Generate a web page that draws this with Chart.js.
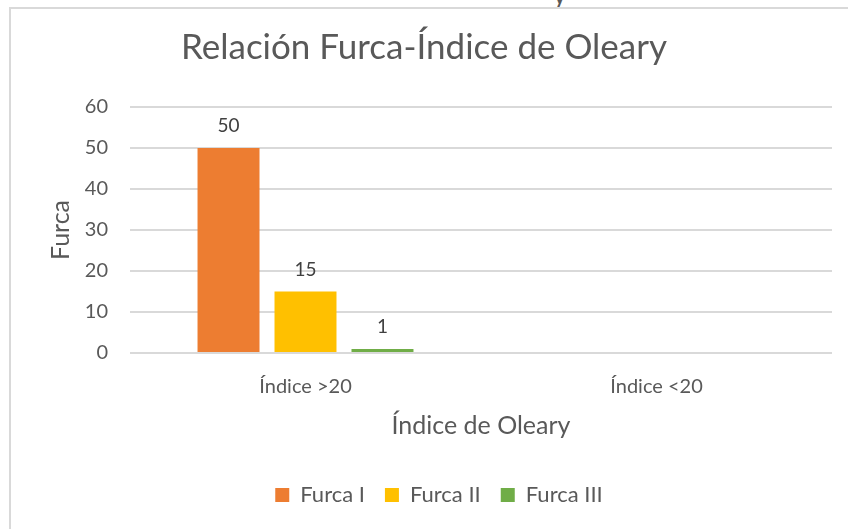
<!DOCTYPE html>
<html>
<head>
<meta charset="utf-8">
<script src="https://cdn.jsdelivr.net/npm/chart.js@4.4.0/dist/chart.umd.min.js"></script>
<style>
  html, body { margin: 0; padding: 0; background: #fff; overflow: hidden; }
  #wrap { position: relative; width: 848px; height: 529px; }
  #frame { position: absolute; left: 9px; top: 7px; width: 900px; height: 600px;
    border-left: 2px solid #d9d9d9; border-top: 2px solid #d9d9d9; }
  #cut { position: absolute; left: 553px; top: -22px; font: 26px Lato, sans-serif; color: #595959; }
  canvas { position: absolute; left: 0; top: 0; }
</style>
</head>
<body>
<div id="wrap">
  <div id="cut">y</div>
  <div id="frame"></div>
  <canvas id="furcaChart" width="848" height="529"></canvas>
</div>
<script>
const categories = ['Índice >20', 'Índice <20'];
const seriesNames = ['Furca I', 'Furca II', 'Furca III'];
const furcaI = [50, null];
const furcaII = [15, null];
const furcaIII = [1, null];
const yTicks = [0, 10, 20, 30, 40, 50, 60];

const colors = ['#ED7D31', '#FFC000', '#70AD47'];
const textColor = '#595959';
const fontFamily = 'Lato, "Open Sans", sans-serif';

// value labels above each bar
const barLabels = {
  id: 'barLabels',
  afterDatasetsDraw(chart) {
    const { ctx } = chart;
    ctx.save();
    ctx.font = '19px ' + fontFamily;
    ctx.fillStyle = '#404040';
    ctx.textAlign = 'center';
    ctx.textBaseline = 'middle';
    chart.data.datasets.forEach((ds, i) => {
      chart.getDatasetMeta(i).data.forEach((bar, j) => {
        const v = ds.data[j];
        if (v === null || v === undefined) return;
        ctx.fillText(String(v), bar.x, bar.y - 22);
      });
    });
    ctx.restore();
  },
};

// nudge title and legend to where the original has them
const boxShift = {
  id: 'boxShift',
  afterLayout(chart) {
    chart.titleBlock.left += 8;
    chart.titleBlock.right += 8;
    chart.legend.left += 23;
    chart.legend.right += 23;
  },
};

// eslint-disable-next-line no-unused-vars
const furcaChart = new Chart(document.querySelector('#furcaChart').getContext('2d'), {
  type: 'bar',
  data: {
    labels: categories,
    datasets: [furcaI, furcaII, furcaIII].map((vals, i) => ({
      label: seriesNames[i],
      data: vals,
      backgroundColor: colors[i],
      categoryPercentage: 0.658,
      barPercentage: 0.805,
    })),
  },
  options: {
    responsive: false,
    animation: false,
    layout: { padding: { top: 0, bottom: 13, left: 0, right: 16 } },
    plugins: {
      title: {
        display: true,
        text: 'Relación Furca-Índice de Oleary',
        color: textColor,
        font: { family: fontFamily, size: 35, weight: 'normal' },
        padding: { top: 27, bottom: 38 },
      },
      legend: {
        position: 'bottom',
        labels: {
          color: textColor,
          font: { family: fontFamily, size: 22 },
          boxWidth: 14,
          boxHeight: 14,
          padding: 20,
        },
      },
      tooltip: { enabled: false },
    },
    scales: {
      x: {
        grid: { display: false },
        border: { display: false },
        ticks: { color: textColor, font: { family: fontFamily, size: 20 }, padding: 14 },
        title: {
          display: true,
          text: 'Índice de Oleary',
          color: textColor,
          font: { family: fontFamily, size: 25 },
          padding: { top: 0, bottom: 23 },
        },
        afterFit(scale) { scale.height = 111; },
      },
      y: {
        min: 0,
        max: 60,
        afterBuildTicks(scale) { scale.ticks = yTicks.map((v) => ({ value: v })); },
        grid: { color: '#d9d9d9', lineWidth: 2, drawTicks: false },
        border: { display: false },
        ticks: { color: textColor, font: { family: fontFamily, size: 20 }, padding: 22 },
        title: {
          display: true,
          text: 'Furca',
          color: textColor,
          font: { family: fontFamily, size: 25 },
          padding: { top: 46, bottom: 0 },
        },
        afterFit(scale) { scale.width = 130; },
      },
    },
  },
  plugins: [barLabels, boxShift],
});
</script>
</body>
</html>
